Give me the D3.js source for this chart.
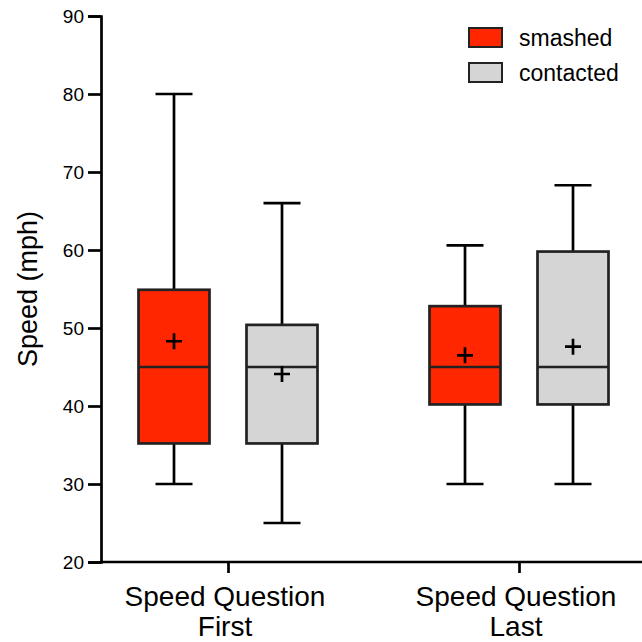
<!DOCTYPE html>
<html>
<head>
<meta charset="utf-8">
<script src="https://cdn.jsdelivr.net/npm/d3@7"></script>
<style>
  body { margin: 0; background: #fff; }
  svg text { font-family: "Liberation Sans", Arial, sans-serif; fill: #000; }
</style>
</head>
<body>
<div id="chart"></div>
<script>

// data
var categories = ["Speed Question|First", "Speed Question|Last"]
var seriesNames = ["smashed", "contacted"]
var seriesColors = ["#ff2600", "#d5d5d5"]

// per category: [smashed, contacted]
var whiskerLow  = [[30, 25], [30, 30]]
var boxLow      = [[35.2, 35.2], [40.2, 40.2]]
var medians     = [[45, 45], [45, 45]]
var boxHigh     = [[54.9, 50.4], [52.8, 59.8]]
var whiskerHigh = [[80, 66], [60.6, 68.3]]
var means       = [[48.3, 44.1], [46.5, 47.6]]

var yTicks = [20, 30, 40, 50, 60, 70, 80, 90]

var width = 642, height = 642
var boxWidth = 71, capWidth = 37, plusSize = 8

var svg = d3.select("#chart").append("svg")
    .attr("width", width)
    .attr("height", height)

var y = d3.scaleLinear().domain([20, 90]).range([562, 16])

var x = d3.scalePoint().domain(categories).range([228, 519])
var xInner = d3.scalePoint().domain(seriesNames).range([-54, 54])

// axes
var yAxis = d3.axisLeft(y).tickValues(yTicks).tickSize(13).tickPadding(4)
var gy = svg.append("g")
    .attr("transform", "translate(101,0)")
    .call(yAxis)
gy.select(".domain").attr("stroke", "#000").attr("stroke-width", 2.7)
gy.selectAll(".tick line").attr("stroke", "#000").attr("stroke-width", 2.7)
gy.selectAll(".tick text").style("font-size", "19px").attr("dy", "0.36em")

var xAxis = d3.axisBottom(x).tickSize(11).tickFormat("")
var gx = svg.append("g")
    .attr("transform", "translate(0,562)")
    .call(xAxis)
gx.select(".domain").attr("d", "M100,0H642").attr("stroke", "#000").attr("stroke-width", 2.7)
gx.selectAll(".tick line").attr("stroke", "#000").attr("stroke-width", 2.7)

// category labels (two lines)
categories.forEach(function(c) {
  var t = svg.append("text")
    .attr("text-anchor", "middle")
    .attr("x", x(c) - 3)
    .attr("y", 606)
    .style("font-size", "28px")
  c.split("|").forEach(function(line, i) {
    t.append("tspan")
      .attr("x", x(c) - 3)
      .attr("dy", i == 0 ? 0 : 30)
      .text(line)
  })
})

svg.append("text")
    .attr("transform", "translate(37," + y(55) + ") rotate(-90)")
    .attr("text-anchor", "middle")
    .style("font-size", "27px")
    .text("Speed (mph)")

// boxes
categories.forEach(function(c, ci) {
  seriesNames.forEach(function(s, si) {
    var cx = x(c) + xInner(s)
    var g = svg.append("g")
      .attr("stroke", "#000")
      .attr("stroke-width", 2.7)
      .attr("fill", "none")

    // whiskers
    g.append("line")
      .attr("x1", cx).attr("x2", cx)
      .attr("y1", y(whiskerHigh[ci][si])).attr("y2", y(boxHigh[ci][si]))
    g.append("line")
      .attr("x1", cx).attr("x2", cx)
      .attr("y1", y(boxLow[ci][si])).attr("y2", y(whiskerLow[ci][si]))
    g.append("line")
      .attr("x1", cx - capWidth / 2).attr("x2", cx + capWidth / 2)
      .attr("y1", y(whiskerHigh[ci][si])).attr("y2", y(whiskerHigh[ci][si]))
    g.append("line")
      .attr("x1", cx - capWidth / 2).attr("x2", cx + capWidth / 2)
      .attr("y1", y(whiskerLow[ci][si])).attr("y2", y(whiskerLow[ci][si]))

    g.append("rect")
      .attr("x", cx - boxWidth / 2)
      .attr("width", boxWidth)
      .attr("y", y(boxHigh[ci][si]))
      .attr("height", y(boxLow[ci][si]) - y(boxHigh[ci][si]))
      .attr("fill", seriesColors[si])
      .attr("stroke", "#222")

    g.append("line")
      .attr("x1", cx - boxWidth / 2).attr("x2", cx + boxWidth / 2)
      .attr("y1", y(medians[ci][si])).attr("y2", y(medians[ci][si]))
      .attr("stroke", "#222")

    // mean marker
    var my = y(means[ci][si])
    g.append("path")
      .attr("d", "M" + (cx - plusSize) + "," + my + "H" + (cx + plusSize) +
                 "M" + cx + "," + (my - plusSize) + "V" + (my + plusSize))
  })
})

// legend
var legend = svg.append("g").attr("transform", "translate(469,28)")
seriesNames.forEach(function(s, i) {
  legend.append("rect")
    .attr("x", 0).attr("y", i * 35)
    .attr("width", 33).attr("height", 19)
    .attr("fill", seriesColors[i])
    .attr("stroke", "#222")
    .attr("stroke-width", 2)
  legend.append("text")
    .attr("x", 50).attr("y", i * 35 + 18)
    .style("font-size", "23px")
    .text(s)
})

</script>
</body>
</html>
